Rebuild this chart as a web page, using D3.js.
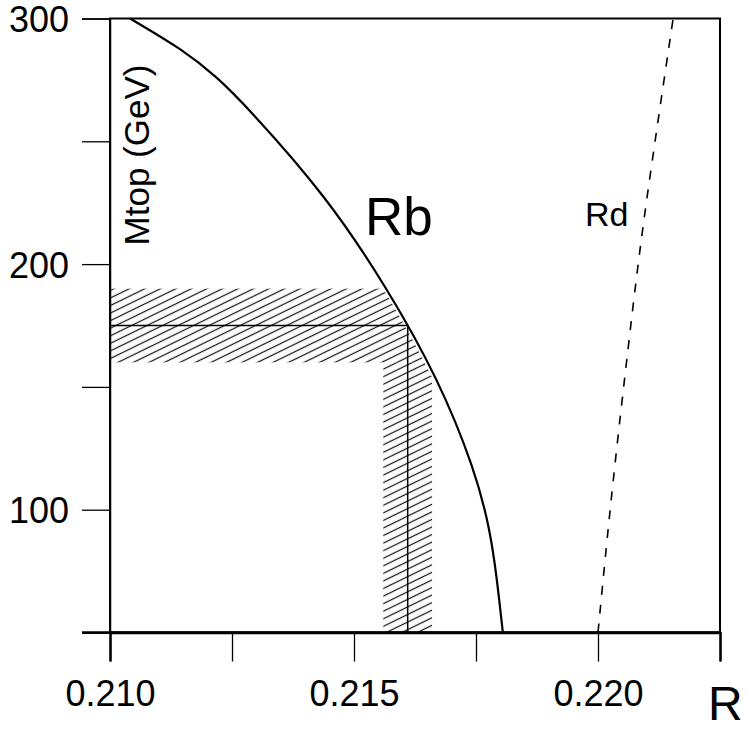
<!DOCTYPE html>
<html>
<head>
<meta charset="utf-8">
<script src="https://cdn.jsdelivr.net/npm/d3@7"></script>
<style>
  body { margin: 0; background: #fff; }
  svg { display: block; font-family: "Liberation Sans", Arial, Helvetica, sans-serif; }
</style>
</head>
<body>
<svg id="chart" width="747" height="731"></svg>
<script>
// Rb curve (R value vs top mass)
const rbR = [0.21041, 0.21150, 0.21219, 0.21281, 0.21445, 0.21568, 0.21672, 0.21748, 0.21779, 0.21793, 0.21805];
const rbM = [300, 287.2, 276.2, 264.0, 227.3, 190.2, 153.6, 116.2, 91.7, 71.7, 50];

// Rd curve (dashed)
const rdR = [0.22000, 0.22029, 0.22068, 0.22092, 0.22154];
const rdM = [50, 109.6, 176.6, 216.9, 300];

// measured Rb (low, central, high) and Mtop (low, central, high)
const rbMeas = [0.2156, 0.2161, 0.2166];
const mtopMeas = [160, 175, 190];

const xTicks = [0.210, 0.2125, 0.215, 0.2175, 0.220, 0.2225];
const xTickLabels = ["0.210", "", "0.215", "", "0.220", ""];
const yTicks = [50, 100, 150, 200, 250, 300];
const yTickLabels = ["", "100", "", "200", "", "300"];

const svg = d3.select("#chart");

const x = d3.scaleLinear().domain([0.210, 0.2225]).range([110, 720]);
const y = d3.scaleLinear().domain([50, 300]).range([632.5, 18.5]);

const rbData = rbR.map((r, i) => ({ r: r, m: rbM[i] }));
const rdData = rdR.map((r, i) => ({ r: r, m: rdM[i] }));

const smooth = d3.curveBasis;

// hatch pattern
const defs = svg.append("defs");
const pat = defs.append("pattern")
    .attr("id", "hatch")
    .attr("patternUnits", "userSpaceOnUse")
    .attr("width", 12)
    .attr("height", 6.8)
    .attr("patternTransform", "rotate(-26)");
pat.append("line")
    .attr("x1", 0).attr("x2", 12)
    .attr("y1", 3.4).attr("y2", 3.4)
    .attr("stroke", "#111")
    .attr("stroke-width", 1.2);

// clip the hatching to the left of the Rb curve
const clipArea = d3.area()
    .curve(smooth)
    .y(d => y(d.m))
    .x0(x(0.210))
    .x1(d => x(d.r) - 3);
defs.append("clipPath").attr("id", "leftOfRb")
    .append("path")
    .attr("d", clipArea(rbData));

const hatchG = svg.append("g").attr("clip-path", "url(#leftOfRb)");
// horizontal band (Mtop)
hatchG.append("rect")
    .attr("x", x(0.210))
    .attr("y", y(mtopMeas[2]))
    .attr("width", x(rbMeas[2]) - x(0.210))
    .attr("height", y(mtopMeas[0]) - y(mtopMeas[2]))
    .attr("fill", "url(#hatch)");
// vertical band (Rb)
hatchG.append("rect")
    .attr("x", x(rbMeas[0]))
    .attr("y", y(mtopMeas[0]))
    .attr("width", x(rbMeas[2]) - x(rbMeas[0]))
    .attr("height", y(50) - y(mtopMeas[0]))
    .attr("fill", "url(#hatch)");

// central value lines
svg.append("path")
    .attr("d", d3.line()([[x(0.210), y(mtopMeas[1])], [x(rbMeas[1]), y(mtopMeas[1])], [x(rbMeas[1]), y(50)]]))
    .attr("fill", "none")
    .attr("stroke", "#000")
    .attr("stroke-width", 1.5);

// frame
svg.append("rect")
    .attr("x", x(0.210))
    .attr("y", y(300))
    .attr("width", x(0.2225) - x(0.210))
    .attr("height", y(50) - y(300))
    .attr("fill", "none")
    .attr("stroke", "#000")
    .attr("stroke-width", 2);

// axes
const xAxis = d3.axisBottom(x)
    .tickValues(xTicks)
    .tickSize(29)
    .tickPadding(16)
    .tickFormat((d, i) => xTickLabels[i]);
const gx = svg.append("g")
    .attr("transform", "translate(0," + y(50) + ")")
    .call(xAxis);
gx.attr("font-size", 36).attr("font-family", "Liberation Sans, Arial, sans-serif");
gx.select(".domain").attr("stroke-width", 2.5);
gx.selectAll(".tick line").attr("stroke-width", 1.3);
gx.selectAll(".tick text")
    .attr("y", 73)
    .attr("dy", null);

const yAxis = d3.axisLeft(y)
    .tickValues(yTicks)
    .tickSize(28)
    .tickPadding(12)
    .tickFormat((d, i) => yTickLabels[i]);
const gy = svg.append("g")
    .attr("transform", "translate(" + x(0.210) + ",0)")
    .call(yAxis);
gy.attr("font-size", 36).attr("font-family", "Liberation Sans, Arial, sans-serif");
gy.select(".domain").attr("stroke-width", 1.5);
gy.selectAll(".tick line").attr("stroke-width", 1.3);
gy.selectAll(".tick text")
    .attr("x", -41)
    .attr("dy", "0.36em");

// bottom axis extends left to the outer tick
svg.append("line")
    .attr("x1", x(0.210) - 28).attr("x2", x(0.2225))
    .attr("y1", y(50)).attr("y2", y(50))
    .attr("stroke", "#000").attr("stroke-width", 2.5);

// Rb curve
svg.append("path")
    .datum(rbData)
    .attr("d", d3.line().curve(smooth).x(d => x(d.r)).y(d => y(d.m)))
    .attr("fill", "none")
    .attr("stroke", "#000")
    .attr("stroke-width", 2.2);

// Rd curve
svg.append("path")
    .datum(rdData)
    .attr("d", d3.line().curve(smooth).x(d => x(d.r)).y(d => y(d.m)))
    .attr("fill", "none")
    .attr("stroke", "#000")
    .attr("stroke-width", 1.6)
    .attr("stroke-dasharray", "9,10");

// labels
svg.append("text")
    .attr("x", 365).attr("y", 235)
    .attr("font-size", 53)
    .text("Rb");
svg.append("text")
    .attr("x", 585).attr("y", 226)
    .attr("font-size", 34)
    .text("Rd");
svg.append("text")
    .attr("transform", "translate(149,155) rotate(-90)")
    .attr("text-anchor", "middle")
    .attr("font-size", 35)
    .text("Mtop (GeV)");
svg.append("text")
    .attr("x", 708).attr("y", 720)
    .attr("font-size", 48)
    .text("R");
</script>
</body>
</html>
